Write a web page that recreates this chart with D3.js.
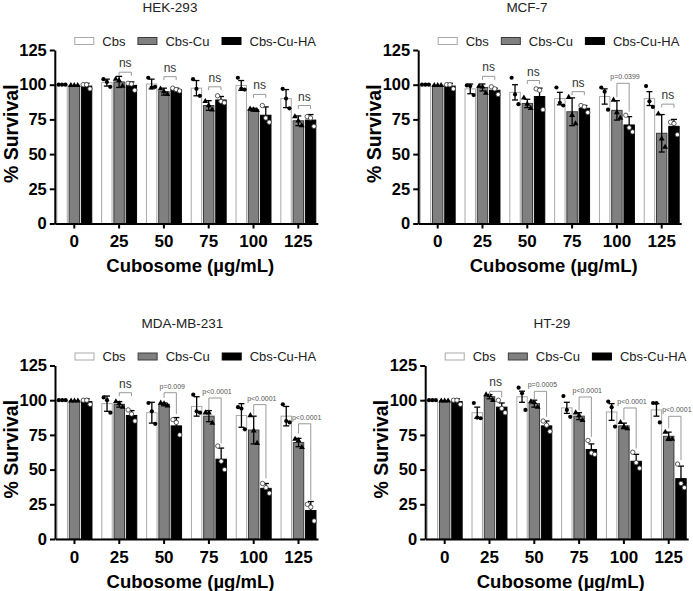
<!DOCTYPE html>
<html>
<head>
<meta charset="utf-8">
<script src="https://cdn.jsdelivr.net/npm/d3@7"></script>
<style>
  body { margin: 0; background: #fff; }
  text { font-family: 'Liberation Sans', Arial, sans-serif; }
</style>
</head>
<body>
<div id="chart"></div>
<script>
// categories
const doses = ['0', '25', '50', '75', '100', '125'];
const seriesNames = ['Cbs', 'Cbs-Cu', 'Cbs-Cu-HA'];
const yTicks = [0, 25, 50, 75, 100, 125];

// HEK-293
const hekCbs = [100, 101.5, 100.5, 97.5, 99.5, 90];
const hekCbsSd = [0, 2.5, 3.5, 5.5, 3.5, 6.5];
const hekCbsPts = [[100, 100, 100], [104, 102, 98.5], [105, 98, 98.5], [104, 97, 92], [105, 97, 96.5], [97, 90, 83]];
const hekCu = [99.5, 102, 95, 85, 82, 74];
const hekCuSd = [0, 4, 2.5, 3.5, 1, 3.5];
const hekCuPts = [[99.5, 99.5, 99.5], [104, 103, 99], [97, 95, 93], [88, 85, 82], [82.5, 82, 81.5], [77, 74, 70.5]];
const hekHa = [99, 99.5, 96.5, 89, 78, 74.5];
const hekHaSd = [2, 2.5, 1, 2.5, 6, 4];
const hekHaPts = [[100, 100, 97], [101, 100.5, 96], [97.5, 96.5, 95.5], [92, 88, 87], [85, 76, 73], [77, 76, 70]];
const hekBrackets = [
  { g: '25', y: 109, yl: 106.5, yr: 106.5, t: 'ns' },
  { g: '50', y: 105.8, yl: 103.3, yr: 103.3, t: 'ns' },
  { g: '75', y: 98.5, yl: 96, yr: 96, t: 'ns' },
  { g: '100', y: 93, yl: 90.5, yr: 90.5, t: 'ns' },
  { g: '125', y: 85, yl: 82.5, yr: 82.5, t: 'ns' }
];

// MCF-7
const mcfCbs = [100, 97, 94.5, 90, 91.5, 90];
const mcfCbsSd = [0, 3.5, 5.5, 4.5, 5.5, 5];
const mcfCbsPts = [[100, 100, 100], [99.5, 99, 92.5], [105, 93, 86], [98, 87, 85], [98, 95, 82], [99, 88, 84]];
const mcfCu = [99.5, 98, 86.5, 80.5, 81.5, 65];
const mcfCuSd = [0, 2.5, 3, 10, 7, 13.5];
const mcfCuPts = [[99.5, 99.5, 99.5], [99, 98.5, 94], [90.5, 86, 83], [91, 78, 72], [89, 80, 76], [79, 61, 55]];
const mcfHa = [99, 96, 91.5, 83, 71, 70];
const mcfHaSd = [2, 1.5, 6, 2, 6, 5];
const mcfHaPts = [[100, 100, 97], [98.5, 97, 93], [97, 96, 82], [85, 84, 80], [78, 69, 66], [73, 72, 64]];
const mcfBrackets = [
  { g: '25', y: 106, yl: 103.5, yr: 103.5, t: 'ns' },
  { g: '50', y: 103, yl: 100.5, yr: 100.5, t: 'ns' },
  { g: '75', y: 95, yl: 92.5, yr: 92.5, t: 'ns' },
  { g: '100', y: 101, yl: 91, yr: 80.5, t: 'p=0.0399' },
  { g: '125', y: 86, yl: 83.5, yr: 83.5, t: 'ns' }
];

// MDA-MB-231
const mdaCbs = [100, 97.5, 91, 95.5, 89, 88.5];
const mdaCbsSd = [0, 5.5, 7.5, 7, 8.5, 7];
const mdaCbsPts = [[100, 100, 100], [102, 100, 91], [98, 92, 83], [104, 92, 91], [95, 94, 79], [97, 85, 84]];
const mdaCu = [99.5, 97, 97, 88.5, 78.5, 69.5];
const mdaCuSd = [0, 2, 1, 4, 10, 3];
const mdaCuPts = [[99.5, 99.5, 99.5], [99, 97.5, 95], [98, 97.5, 96], [91, 91, 83.5], [89, 78, 69], [72, 71, 66]];
const mdaHa = [99, 89, 81.5, 57.5, 36.5, 20.5];
const mdaHaSd = [2, 3.5, 6, 8, 3.5, 6.5];
const mdaHaPts = [[100, 100, 97], [93, 90, 85], [86, 84, 75], [67, 56, 50], [40, 37, 33], [25, 23, 13]];
const mdaBrackets = [
  { g: '25', y: 105.4, yl: 102.9, yr: 102.9, t: 'ns' },
  { g: '50', y: 105.4, yl: 101.6, yr: 90, t: 'p=0.009' },
  { g: '75', y: 101.6, yl: 92.7, yr: 69, t: 'p<0.0001' },
  { g: '100', y: 96.8, yl: 89.6, yr: 43.7, t: 'p<0.0001' },
  { g: '125', y: 83, yl: 76, yr: 28, t: 'p<0.0001' }
];

// HT-29
const htCbs = [100, 91, 102.5, 94.5, 91.5, 93];
const htCbsSd = [0, 4, 4, 4, 6, 4.5];
const htCbsPts = [[100, 100, 100], [98, 87.5, 87], [109, 105, 93], [103, 93, 88], [99, 95, 81], [98, 98, 84]];
const htCu = [99.5, 102.5, 97.5, 88.5, 81.5, 74];
const htCuSd = [0, 1.5, 2.5, 2.5, 2, 3];
const htCuPts = [[99.5, 99.5, 99.5], [104, 103.5, 100], [99, 98.5, 95], [91, 89, 85.5], [84, 81, 79.5], [77, 72.5, 72]];
const htHa = [99, 95, 81.5, 64.5, 56, 43.5];
const htHaSd = [2, 3, 3.5, 4, 5, 9];
const htHaPts = [[100, 100, 97], [100, 94, 91], [85, 82, 77.5], [71, 62, 61], [62.5, 55, 51], [54, 40, 37]];
const htBrackets = [
  { g: '25', y: 106.4, yl: 103.5, yr: 102, t: 'ns' },
  { g: '50', y: 106.4, yl: 100, yr: 88, t: 'p=0.0005' },
  { g: '75', y: 102.3, yl: 92.7, yr: 73.6, t: 'p<0.0001' },
  { g: '100', y: 94.4, yl: 85.6, yr: 65.2, t: 'p<0.0001' },
  { g: '125', y: 88.4, yl: 79.6, yr: 56.9, t: 'p<0.0001' }
];

const panels = [
  { title: 'HEK-293', mean: [hekCbs, hekCu, hekHa], sd: [hekCbsSd, hekCuSd, hekHaSd], pts: [hekCbsPts, hekCuPts, hekHaPts], br: hekBrackets, ox: 54.8, oy: 50, tx: 170 },
  { title: 'MCF-7', mean: [mcfCbs, mcfCu, mcfHa], sd: [mcfCbsSd, mcfCuSd, mcfHaSd], pts: [mcfCbsPts, mcfCuPts, mcfHaPts], br: mcfBrackets, ox: 418.2, oy: 50, tx: 527 },
  { title: 'MDA-MB-231', mean: [mdaCbs, mdaCu, mdaHa], sd: [mdaCbsSd, mdaCuSd, mdaHaSd], pts: [mdaCbsPts, mdaCuPts, mdaHaPts], br: mdaBrackets, ox: 55, oy: 365.5, tx: 182.5 },
  { title: 'HT-29', mean: [htCbs, htCu, htHa], sd: [htCbsSd, htCuSd, htHaSd], pts: [htCbsPts, htCuPts, htHaPts], br: htBrackets, ox: 425.2, oy: 365.5, tx: 552 }
];

const W = 693, H = 591;
const plotW = 263, plotH = 173.5;
const fills = ['#ffffff', '#808080', '#000000'];
const strokes = ['#a9a9a9', '#3c3c3c', '#000000'];
const jitter = [-3.4, 0, 3.4];

const svg = d3.select('#chart').append('svg')
  .attr('width', W)
  .attr('height', H)

panels.forEach((p) => {
  const x = d3.scaleBand().domain(doses).range([0, plotW]).paddingInner(0.22).paddingOuter(0.045)
  const xs = d3.scaleBand().domain(seriesNames).range([0, x.bandwidth()]).paddingInner(0.15)
  const y = d3.scaleLinear().domain([0, 125]).range([plotH, 0])
  const bw = xs.bandwidth()

  // title
  svg.append('text')
    .attr('x', p.tx).attr('y', p.oy - 38)
    .attr('text-anchor', 'middle')
    .style('font-size', '13.5px').attr('fill', '#222')
    .text(p.title)

  const g = svg.append('g').attr('transform', 'translate(' + p.ox + ',' + p.oy + ')')

  // legend
  const leg = g.append('g').attr('transform', 'translate(20,-9)')
  let lx = 0
  seriesNames.forEach((s, i) => {
    leg.append('rect')
      .attr('x', lx).attr('y', -3.5).attr('width', 19).attr('height', 7)
      .attr('fill', fills[i]).attr('stroke', strokes[i]).attr('stroke-width', 1)
    const t = leg.append('text')
      .attr('x', lx + 27.5).attr('y', 4.5)
      .style('font-size', '13px').attr('fill', '#222')
      .text(s)
    lx += 27.5 + t.node().getComputedTextLength() + 12.5
  })

  // bars
  seriesNames.forEach((s, i) => {
    const grp = g.append('g')
    doses.forEach((d, j) => {
      const m = p.mean[i][j]
      grp.append('rect')
        .attr('x', x(d) + xs(s)).attr('y', y(m))
        .attr('width', bw).attr('height', y(0) - y(m))
        .attr('fill', fills[i]).attr('stroke', strokes[i]).attr('stroke-width', 1)
    })
  })

  // error bars
  seriesNames.forEach((s, i) => {
    doses.forEach((d, j) => {
      const m = p.mean[i][j], e = p.sd[i][j]
      if (!e) return
      const cx = x(d) + xs(s) + bw / 2
      const eb = g.append('g').attr('stroke', '#000').attr('stroke-width', 1.3)
      eb.append('line').attr('x1', cx).attr('x2', cx).attr('y1', y(m - e)).attr('y2', y(m + e))
      eb.append('line').attr('x1', cx - 3).attr('x2', cx + 3).attr('y1', y(m + e)).attr('y2', y(m + e))
      eb.append('line').attr('x1', cx - 3).attr('x2', cx + 3).attr('y1', y(m - e)).attr('y2', y(m - e))
    })
  })

  // individual points
  const tri = d3.symbol().type(d3.symbolTriangle).size(15)
  seriesNames.forEach((s, i) => {
    doses.forEach((d, j) => {
      const cx = x(d) + xs(s) + bw / 2
      p.pts[i][j].forEach((v, k) => {
        const px = cx + jitter[k], py = y(v)
        if (i === 0) {
          g.append('circle').attr('cx', px).attr('cy', py).attr('r', 2.1).attr('fill', '#000')
        } else if (i === 1) {
          g.append('path').attr('d', tri).attr('transform', 'translate(' + px + ',' + py + ')').attr('fill', '#000')
        } else {
          g.append('circle').attr('cx', px).attr('cy', py).attr('r', 2.2)
            .attr('fill', '#fff').attr('stroke', '#333').attr('stroke-width', 0.8)
        }
      })
    })
  })

  // significance brackets
  p.br.forEach((b) => {
    const x1 = x(b.g) + xs('Cbs-Cu') + bw / 2
    const x2 = x(b.g) + xs('Cbs-Cu-HA') + bw / 2
    g.append('path')
      .attr('d', 'M' + x1 + ',' + y(b.yl) + 'V' + y(b.y) + 'H' + x2 + 'V' + y(b.yr))
      .attr('fill', 'none').attr('stroke', '#9a9a9a').attr('stroke-width', 1)
    const ns = b.t === 'ns'
    g.append('text')
      .attr('x', (x1 + x2) / 2 + (ns ? 0 : 2)).attr('y', y(b.y) - (ns ? 5 : 4))
      .attr('text-anchor', 'middle')
      .style('font-size', ns ? '12px' : '7px')
      .attr('fill', ns ? '#333' : '#555')
      .text(b.t)
  })

  // axes
  const ya = g.append('g')
    .call(d3.axisLeft(y).tickValues(yTicks).tickSize(5).tickSizeOuter(0).tickPadding(3))
  const xa = g.append('g')
    .attr('transform', 'translate(0,' + plotH + ')')
    .call(d3.axisBottom(x).tickSize(5).tickSizeOuter(0).tickPadding(6.5))
  ;[ya, xa].forEach((a) => {
    a.selectAll('path,line').attr('stroke', '#000').attr('stroke-width', 2)
    a.selectAll('text').attr('fill', '#000').style('font-weight', 'bold')
      .style('font-family', "'Liberation Sans', Arial, sans-serif")
  })
  ya.selectAll('text').style('font-size', '16.5px')
  xa.selectAll('text').style('font-size', '17px')

  // axis titles
  g.append('text')
    .attr('transform', 'translate(-37,' + (plotH / 2 - 3) + ') rotate(-90)')
    .attr('text-anchor', 'middle')
    .style('font-size', '19.5px').style('font-weight', 'bold')
    .text('% Survival')
  g.append('text')
    .attr('x', plotW / 2 + 4).attr('y', plotH + 48.5)
    .attr('text-anchor', 'middle')
    .style('font-size', '18.5px').style('font-weight', 'bold')
    .text('Cubosome (µg/mL)')
})
</script>
</body>
</html>
